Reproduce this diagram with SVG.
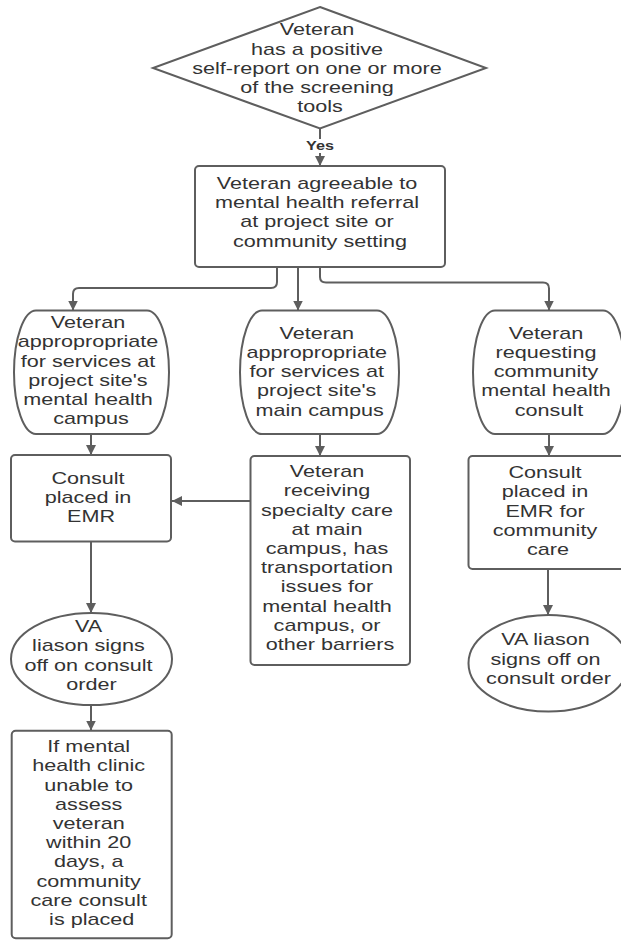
<svg xmlns="http://www.w3.org/2000/svg" width="621" height="940" viewBox="0 0 621 940">
  <defs>
    <style>
      .shape { fill: #ffffff; stroke: #5e5e5e; stroke-width: 2; }
      .conn { fill: none; stroke: #5e5e5e; stroke-width: 2; }
      .t { font-family: "Liberation Sans", Arial, sans-serif; font-size: 16px; fill: #333333; text-anchor: middle; }
      .lbl { font-family: "Liberation Sans", Arial, sans-serif; font-size: 12px; font-weight: bold; fill: #333333; text-anchor: middle; }
    </style>
    <marker id="arrow" markerUnits="userSpaceOnUse" markerWidth="10" markerHeight="10" refX="10" refY="5" orient="auto">
      <path d="M0,0 L10,5 L0,10 Z" fill="#5e5e5e"/>
    </marker>
  </defs>
  <rect x="0" y="0" width="621" height="940" fill="#ffffff"/>

  <g id="connectors">
    <line class="conn" x1="320" y1="128" x2="320" y2="139"/>
    <line class="conn" x1="320" y1="153" x2="320" y2="166" marker-end="url(#arrow)"/>
    <text class="lbl" transform="translate(320 0) scale(1.35 1)" x="0" y="150">Yes</text>
    <path class="conn" d="M277,267 V282 Q277,288 271,288 H79 Q73,288 73,294 V310.5" marker-end="url(#arrow)"/>
    <path class="conn" d="M298,267 V310.5" marker-end="url(#arrow)"/>
    <path class="conn" d="M320,267 V277 Q320,282.5 326,282.5 H543 Q549,282.5 549,288.5 V310.5" marker-end="url(#arrow)"/>
    <path class="conn" d="M91,434 V455" marker-end="url(#arrow)"/>
    <path class="conn" d="M320,434 V456" marker-end="url(#arrow)"/>
    <path class="conn" d="M549,434 V456" marker-end="url(#arrow)"/>
    <path class="conn" d="M250,501 H172" marker-end="url(#arrow)"/>
    <path class="conn" d="M91,541.5 V613" marker-end="url(#arrow)"/>
    <path class="conn" d="M548,569 V615" marker-end="url(#arrow)"/>
    <path class="conn" d="M91,705 V730.5" marker-end="url(#arrow)"/>
  </g>

  <g id="n-decision">
    <polygon class="shape" points="320,7 486,68 320,128.5 153,68"/>
    <text class="t" transform="translate(320 0) scale(1.35 1)">
      <tspan x="0" y="35.5">Veteran</tspan>
      <tspan x="0" y="54.7">has a positive</tspan>
      <tspan x="0" y="73.9">self-report on one or more</tspan>
      <tspan x="0" y="93.1">of the screening</tspan>
      <tspan x="0" y="112.3">tools</tspan>
    </text>
  </g>

  <g id="n-agreeable">
    <rect class="shape" x="195" y="166" width="250" height="101" rx="4"/>
    <text class="t" transform="translate(320 0) scale(1.35 1)">
      <tspan x="0" y="189">Veteran agreeable to</tspan>
      <tspan x="0" y="208.2">mental health referral</tspan>
      <tspan x="0" y="227.4">at project site or</tspan>
      <tspan x="0" y="246.6">community setting</tspan>
    </text>
  </g>

  <g id="n-mh-campus">
    <path class="shape" d="M36,310.5 H147 A22,61.75 0 0 1 169,372.25 A22,61.75 0 0 1 147,434 H36 A22,61.75 0 0 1 14,372.25 A22,61.75 0 0 1 36,310.5 Z"/>
    <text class="t" transform="translate(91 0) scale(1.35 1)">
      <tspan x="0" y="328.2">Veteran</tspan>
      <tspan x="0" y="347.4">appropropriate</tspan>
      <tspan x="0" y="366.6">for services at</tspan>
      <tspan x="0" y="385.8">project site's</tspan>
      <tspan x="0" y="405">mental health</tspan>
      <tspan x="0" y="424.2">campus</tspan>
    </text>
  </g>

  <g id="n-main-campus">
    <path class="shape" d="M262,310.5 H377 A22,61.75 0 0 1 399,372.25 A22,61.75 0 0 1 377,434 H262 A22,61.75 0 0 1 240,372.25 A22,61.75 0 0 1 262,310.5 Z"/>
    <text class="t" transform="translate(319.7 0) scale(1.35 1)">
      <tspan x="0" y="338.8">Veteran</tspan>
      <tspan x="0" y="358">appropropriate</tspan>
      <tspan x="0" y="377.2">for services at</tspan>
      <tspan x="0" y="396.4">project site's</tspan>
      <tspan x="0" y="415.6">main campus</tspan>
    </text>
  </g>

  <g id="n-community-request">
    <path class="shape" d="M495,310.5 H603 A22,61.75 0 0 1 625,372.25 A22,61.75 0 0 1 603,434 H495 A22,61.75 0 0 1 473,372.25 A22,61.75 0 0 1 495,310.5 Z"/>
    <text class="t" transform="translate(549 0) scale(1.35 1)">
      <tspan x="0" y="338.8">Veteran</tspan>
      <tspan x="0" y="358">requesting</tspan>
      <tspan x="0" y="377.2">community</tspan>
      <tspan x="0" y="396.4">mental health</tspan>
      <tspan x="0" y="415.6">consult</tspan>
    </text>
  </g>

  <g id="n-consult-emr">
    <rect class="shape" x="11" y="455" width="160" height="86.5" rx="4"/>
    <text class="t" transform="translate(91 0) scale(1.35 1)">
      <tspan x="0" y="483.8">Consult</tspan>
      <tspan x="0" y="503">placed in</tspan>
      <tspan x="0" y="522.2">EMR</tspan>
    </text>
  </g>

  <g id="n-specialty">
    <rect class="shape" x="250.5" y="456" width="159.5" height="209" rx="4"/>
    <text class="t" transform="translate(330 0) scale(1.35 1)">
      <tspan x="0" y="477.2">Veteran</tspan>
      <tspan x="0" y="496.4">receiving</tspan>
      <tspan x="0" y="515.6">specialty care</tspan>
      <tspan x="0" y="534.8">at main</tspan>
      <tspan x="0" y="554">campus, has</tspan>
      <tspan x="0" y="573.2">transportation</tspan>
      <tspan x="0" y="592.4">issues for</tspan>
      <tspan x="0" y="611.6">mental health</tspan>
      <tspan x="0" y="630.8">campus, or</tspan>
      <tspan x="0" y="650">other barriers</tspan>
    </text>
  </g>

  <g id="n-consult-community">
    <rect class="shape" x="468.5" y="456" width="160" height="113" rx="4"/>
    <text class="t" transform="translate(548 0) scale(1.35 1)">
      <tspan x="0" y="478.2">Consult</tspan>
      <tspan x="0" y="497.4">placed in</tspan>
      <tspan x="0" y="516.6">EMR for</tspan>
      <tspan x="0" y="535.8">community</tspan>
      <tspan x="0" y="555">care</tspan>
    </text>
  </g>

  <g id="n-liaison-left">
    <ellipse class="shape" cx="91.5" cy="659" rx="80.5" ry="46"/>
    <text class="t" transform="translate(91.5 0) scale(1.35 1)">
      <tspan x="0" y="632.2">VA</tspan>
      <tspan x="0" y="651.4">liason signs</tspan>
      <tspan x="0" y="670.6">off on consult</tspan>
      <tspan x="0" y="689.8">order</tspan>
    </text>
  </g>

  <g id="n-liaison-right">
    <ellipse class="shape" cx="548.5" cy="663.3" rx="80" ry="48.3"/>
    <text class="t" transform="translate(548.5 0) scale(1.35 1)">
      <tspan x="0" y="645.5">VA liason</tspan>
      <tspan x="0" y="664.7">signs off on</tspan>
      <tspan x="0" y="683.9">consult order</tspan>
    </text>
  </g>

  <g id="n-community-fallback">
    <rect class="shape" x="11.7" y="730.7" width="160" height="207.5" rx="4"/>
    <text class="t" transform="translate(91.7 0) scale(1.35 1)">
      <tspan x="0" y="752.2">If mental</tspan>
      <tspan x="0" y="771.4">health clinic</tspan>
      <tspan x="0" y="790.6">unable to</tspan>
      <tspan x="0" y="809.8">assess</tspan>
      <tspan x="0" y="829">veteran</tspan>
      <tspan x="0" y="848.2">within 20</tspan>
      <tspan x="0" y="867.4">days, a</tspan>
      <tspan x="0" y="886.6">community</tspan>
      <tspan x="0" y="905.8">care consult</tspan>
      <tspan x="0" y="925">is placed</tspan>
    </text>
  </g>
</svg>
